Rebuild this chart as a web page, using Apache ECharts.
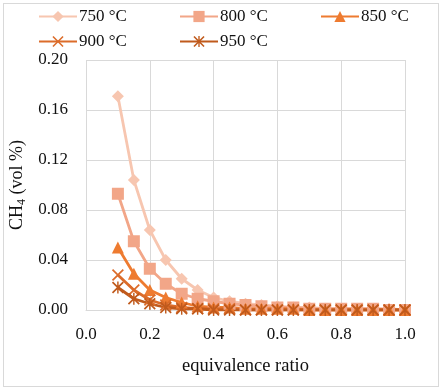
<!DOCTYPE html>
<html lang="en">
  <head>
    <meta charset="UTF-8" />
    <title>CH4 vs equivalence ratio</title>
    <style>
      * {
        margin: 0;
        padding: 0;
      }
      body {
        background: #fff;
      }
      #main {
        position: absolute;
        left: 3px;
        top: 3px;
        width: 434px;
        height: 382px;
        border: 1px solid #d9d9d9;
      }
    </style>
  </head>
  <body>
    <div id="main"></div>
    <script src="https://cdn.jsdelivr.net/npm/echarts@6/dist/echarts.min.js"></script>
    <script>
      // equivalence ratio
      const ratios = [0.1, 0.15, 0.2, 0.25, 0.3, 0.35, 0.4, 0.45, 0.5, 0.55, 0.6, 0.65, 0.7, 0.75, 0.8, 0.85, 0.9, 0.95, 1.0];

      const names = ["750 °C", "800 °C", "850 °C", "900 °C", "950 °C"];

      // CH4 (vol %)
      const ch4_750 = [0.171, 0.104, 0.064, 0.040, 0.025, 0.016, 0.010, 0.007, 0.005, 0.004, 0.003, 0.002, 0.002, 0.001, 0.001, 0.001, 0.001, 0.001, 0.000];
      const ch4_800 = [0.093, 0.055, 0.033, 0.021, 0.013, 0.009, 0.007, 0.005, 0.004, 0.003, 0.002, 0.002, 0.001, 0.001, 0.001, 0.001, 0.001, 0.000, 0.000];
      const ch4_850 = [0.050, 0.029, 0.016, 0.010, 0.006, 0.003, 0.002, 0.002, 0.001, 0.001, 0.001, 0.001, 0.000, 0.000, 0.000, 0.000, 0.000, 0.000, 0.000];
      const ch4_900 = [0.028, 0.016, 0.008, 0.004, 0.002, 0.001, 0.001, 0.001, 0.000, 0.000, 0.000, 0.000, 0.000, 0.000, 0.000, 0.000, 0.000, 0.000, 0.000];
      const ch4_950 = [0.018, 0.009, 0.005, 0.002, 0.001, 0.001, 0.000, 0.000, 0.000, 0.000, 0.000, 0.000, 0.000, 0.000, 0.000, 0.000, 0.000, 0.000, 0.000];

      const xTicks = ["0.0", "0.2", "0.4", "0.6", "0.8", "1.0"];

      const colors = ["#f7c6b0", "#f2a688", "#ee7b30", "#dc6c2a", "#c05a1c"];

      // 叉号和米字形标记
      const crossPath = "path://M0,1 L1,0 L5,4 L9,0 L10,1 L6,5 L10,9 L9,10 L5,6 L1,10 L0,9 L4,5 Z";
      const starPath = "path://M0,1 L1,0 L5,4 L9,0 L10,1 L6,5 L10,9 L9,10 L5,6 L1,10 L0,9 L4,5 Z M4.4,0 L5.6,0 L5.6,10 L4.4,10 Z";
      const symbols = ["diamond", "rect", "triangle", crossPath, starPath];
      const symbolSizes = [12, 12, 12, 12, 12];

      const allData = [ch4_750, ch4_800, ch4_850, ch4_900, ch4_950];

      const font = "'Liberation Serif', 'Times New Roman', serif";

      const myChart = echarts.init(document.getElementById("main"));

      const series = allData.map((vals, i) => ({
        name: names[i],
        type: "line",
        data: ratios.map((x, j) => [x, vals[j]]),
        symbol: symbols[i],
        symbolSize: symbolSizes[i],
        showAllSymbol: true,
        lineStyle: { color: colors[i], width: 2.8 },
        itemStyle: { color: colors[i] },
      }));

      // 图例分三列摆放
      const legendCols = [
        { left: 34, data: [names[0], names[3]] },
        { left: 175, data: [names[1], names[4]] },
        { left: 316, data: [names[2]] },
      ];
      const legends = legendCols.map((c) => ({
        left: c.left,
        top: 3,
        orient: "vertical",
        padding: 0,
        itemGap: 6,
        itemWidth: 38,
        itemHeight: 14,
        data: c.data,
        textStyle: {
          fontFamily: font,
          fontSize: 17,
          color: "#111",
          padding: [0, 0, 0, -3],
          lineHeight: 19,
        },
      }));

      const option = {
        animation: false,
        color: colors,
        textStyle: { fontFamily: font },
        legend: legends,
        grid: {
          left: 82,
          right: 33,
          top: 56,
          bottom: 76,
          containLabel: false,
          outerBoundsMode: "none",
        },
        xAxis: {
          type: "value",
          min: 0,
          max: 1,
          interval: 0.2,
          name: "equivalence ratio",
          nameLocation: "middle",
          nameGap: 47,
          nameTextStyle: { fontFamily: font, fontSize: 18.5, color: "#111" },
          axisLine: { show: true, lineStyle: { color: "#d9d9d9" } },
          axisTick: { show: false },
          axisLabel: {
            fontFamily: font,
            fontSize: 17,
            color: "#111",
            margin: 16,
            formatter: (v) => xTicks[Math.round(v / 0.2)],
          },
          splitLine: { show: true, lineStyle: { color: "#d9d9d9" } },
        },
        yAxis: {
          type: "value",
          min: 0,
          max: 0.2,
          interval: 0.04,
          name: "{a|CH}{s|4}{a| (vol %)}",
          nameLocation: "middle",
          nameGap: 52,
          nameTextStyle: {
            rich: {
              a: { fontFamily: font, fontSize: 18, color: "#111" },
              s: { fontFamily: font, fontSize: 12, color: "#111", padding: [9, 0, 0, 0] },
            },
          },
          axisLine: { show: false },
          axisTick: { show: false },
          axisLabel: {
            fontFamily: font,
            fontSize: 17,
            color: "#111",
            margin: 18,
            formatter: (v) => v.toFixed(2),
          },
          splitLine: { show: true, lineStyle: { color: "#d9d9d9" } },
        },
        series: series,
      };

      myChart.setOption(option);
    </script>
  </body>
</html>
